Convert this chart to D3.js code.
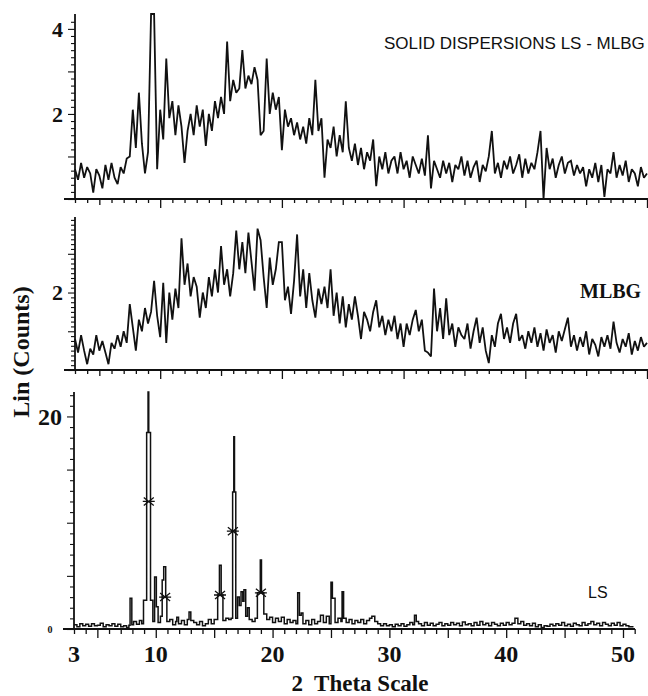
<!DOCTYPE html>
<html><head><meta charset="utf-8">
<script src="https://cdn.jsdelivr.net/npm/d3@7"></script>
<style>body{margin:0;background:#fff}</style>
</head><body>
<svg id="c" width="648" height="696"></svg>
<script>
// ---------- DATA ----------
const thetaStart = 3, thetaStep = 0.25;
// Solid dispersion LS-MLBG (x from 3 to 50 step 0.25)
const sdCounts = [
0.7,0.45,0.85,0.5, 0.75,0.6,0.15,0.7, 0.55,0.25,0.8,0.45, 0.85,0.5,0.35,0.75,
0.6,0.95,1.0,2.1, 1.2,2.5,1.3,0.6, 1.1,4.35,4.35,0.7, 2.1,1.4,3.3,1.9,
2.3,1.5,2.2,1.7, 0.85,1.6,2.0,1.5, 2.2,1.7,2.1,1.25, 2.0,1.6,2.3,1.9,
2.4,2.0,3.7,2.3, 2.8,2.5,2.6,3.5, 2.6,2.9,2.7,3.1, 2.8,1.5,1.6,3.3,
2.0,2.5,2.1,2.4, 1.15,2.1,1.7,1.9, 1.5,1.8,1.4,1.7, 1.3,1.9,1.5,2.8,
1.6,1.9,0.5,1.4, 1.2,1.7,1.0,1.5, 1.1,2.3,1.2,0.9, 1.3,0.8,1.2,0.7,
1.1,0.9,1.4,0.3, 1.0,0.7,1.1,0.6, 0.9,1.0,0.6,1.1, 0.7,0.9,0.5,1.0,
0.8,0.6,0.95,0.55, 1.5,0.25,0.9,0.7, 0.5,0.9,0.6,0.85, 0.4,0.8,0.7,1.0,
0.55,0.9,0.5,0.75, 0.9,0.4,0.8,0.65, 1.0,1.6,0.6,0.85, 0.5,0.9,0.7,1.0,
0.6,0.8,1.05,0.5, 0.95,0.6,0.85,0.7, 1.1,1.6,0.0,1.2, 0.7,0.95,0.5,0.8,
1.0,0.6,0.85,0.9, 0.55,0.8,0.6,0.75, 0.3,0.7,0.5,0.85, 0.4,0.8,0.05,0.7,
0.6,1.1,0.5,0.8, 0.55,0.9,0.4,0.7, 0.6,0.3,0.75,0.5, 0.6
];
// MLBG (x from 3 to 50 step 0.25)
const mlbgCounts = [
0.8,0.45,0.9,0.5, 0.15,0.55,0.4,0.9, 0.5,0.75,0.45,0.15, 0.7,0.55,0.9,0.6,
1.0,0.7,1.7,1.1, 0.5,1.3,1.0,1.6, 1.2,1.5,2.3,1.4, 0.85,2.25,0.7,2.0,
1.3,2.1,1.6,3.4, 2.2,2.75,1.9,2.4, 2.15,1.35,2.0,1.6, 2.4,1.9,2.6,2.0,
3.2,2.2,2.6,1.9, 2.5,3.6,2.6,3.3, 2.5,3.55,2.8,2.05, 3.65,3.35,2.4,1.6,
2.9,2.2,2.6,3.3, 3.3,1.8,2.15,1.45, 2.3,3.5,1.9,2.6, 1.6,2.5,1.8,1.35,
2.1,1.7,2.15,1.6, 2.6,1.4,2.0,1.2, 1.9,1.1,1.7,1.3, 1.9,1.4,0.8,1.5,
1.3,1.0,1.5,1.8, 1.1,1.4,0.9,1.3, 1.0,1.4,0.8,1.2, 0.6,1.2,0.9,1.3,
1.55,1.0,1.3,0.5, 0.45,0.35,2.1,1.0, 1.6,0.8,1.85,0.9, 1.2,0.6,1.1,0.9,
0.8,1.2,0.55,1.0, 1.35,0.7,1.1,0.5, 0.18,0.9,0.6,1.2, 1.45,0.8,1.1,0.7,
1.2,1.45,0.75,0.9, 0.55,1.0,0.7,1.1, 0.6,0.95,0.5,1.05, 0.7,0.9,0.45,1.0,
0.75,1.05,1.35,0.6, 0.9,0.5,0.85,0.6, 1.0,0.4,0.8,0.65, 0.35,0.85,0.6,0.9,
0.55,1.25,0.7,0.45, 0.8,0.6,0.95,0.4, 0.75,0.5,0.85,0.6, 0.7
];
// LS pattern: [2theta, counts]
const lsPoints = [
[3.0,0.4],[3.25,0.2],[3.5,0.5],[3.75,0.3],[4.0,0.45],[4.25,0.25],[4.5,0.5],[4.75,0.3],
[5.0,0.35],[5.25,0.55],[5.5,0.2],[5.75,0.4],[6.0,0.3],[6.25,0.5],[6.5,0.25],[6.75,0.45],
[7.0,0.2],[7.25,0.3],[7.5,0.15],[7.7,0.35],[7.8,2.9],[7.95,0.4],[8.1,0.7],[8.35,0.45],
[8.6,0.8],[8.8,0.5],[8.95,2.7],[9.22,18.5],[9.34,22.3],[9.4,18.5],[9.55,2.7],[9.75,0.7],
[9.9,4.9],[10.05,2.1],[10.2,0.6],[10.4,1.2],[10.55,4.6],[10.68,5.85],[10.85,3.0],[10.95,0.7],
[11.2,0.9],[11.45,0.4],[11.7,0.7],[11.8,1.1],[11.95,0.5],[12.2,0.8],[12.45,0.4],[12.7,0.9],
[12.85,1.6],[13.0,0.8],[13.25,0.6],[13.5,0.4],[13.75,0.7],[14.0,0.3],[14.25,0.5],[14.5,0.9],
[14.75,0.5],[15.0,0.9],[15.3,3.2],[15.45,6.0],[15.6,3.2],[15.75,0.8],[16.0,1.0],[16.25,0.9],
[16.45,1.0],[16.58,12.9],[16.68,18.1],[16.74,12.9],[16.85,1.0],[17.0,3.0],[17.15,2.2],[17.3,3.5],
[17.45,2.6],[17.55,3.7],[17.7,1.2],[17.85,2.0],[18.0,0.9],[18.25,0.7],[18.5,1.0],[18.7,3.4],
[18.95,6.5],[19.05,3.4],[19.25,1.4],[19.5,0.9],[19.75,1.1],[20.0,0.6],[20.25,1.0],[20.5,0.7],
[20.75,1.1],[21.0,0.5],[21.25,0.9],[21.5,0.6],[21.75,0.8],[22.0,0.5],[22.15,3.4],[22.3,1.3],
[22.45,1.5],[22.6,0.5],[22.85,0.8],[23.1,0.4],[23.35,0.9],[23.6,0.5],[23.85,0.7],[24.1,1.3],
[24.35,0.6],[24.6,1.2],[24.85,0.5],[25.0,4.4],[25.12,2.9],[25.25,2.9],[25.35,0.6],[25.6,1.0],
[25.85,0.7],[25.95,3.5],[26.08,1.0],[26.3,0.6],[26.55,0.9],[26.8,0.5],[27.05,0.8],[27.3,0.6],
[27.55,0.9],[27.8,0.5],[28.05,0.8],[28.3,1.0],[28.5,1.2],[28.75,0.7],[29.0,0.5],[29.25,0.3],
[29.5,0.5],[29.75,0.3],[30.0,0.4],[30.25,0.2],[30.5,0.45],[30.75,0.3],[31.0,0.5],[31.25,0.25],
[31.5,0.4],[31.75,0.6],[32.0,0.4],[32.15,1.3],[32.3,0.7],[32.5,0.5],[32.75,0.3],[33.0,0.6],
[33.25,0.35],[33.5,0.55],[33.75,0.3],[34.0,0.45],[34.25,0.6],[34.5,0.3],[34.75,0.5],[35.0,0.35],
[35.25,0.6],[35.5,0.4],[35.75,0.55],[36.0,0.3],[36.25,0.65],[36.5,0.4],[36.75,0.5],[37.0,0.3],
[37.25,0.6],[37.5,0.35],[37.75,0.7],[38.0,0.4],[38.25,0.55],[38.5,0.3],[38.75,0.6],[39.0,0.45],
[39.25,0.3],[39.5,0.55],[39.75,0.35],[40.0,0.6],[40.25,0.4],[40.5,0.55],[40.75,1.0],[41.0,0.5],
[41.25,0.7],[41.5,0.35],[41.75,0.5],[42.0,0.3],[42.25,0.55],[42.5,0.2],[42.75,0.4],[43.0,0.15],
[43.25,0.3],[43.5,0.25],[43.75,0.45],[44.0,0.3],[44.25,0.5],[44.5,0.35],[44.75,0.6],[45.0,0.3],
[45.25,0.45],[45.5,0.25],[45.75,0.55],[46.0,0.4],[46.25,0.3],[46.5,0.6],[46.75,0.35],[47.0,0.5],
[47.25,0.7],[47.5,0.4],[47.75,0.55],[48.0,0.3],[48.25,0.6],[48.5,0.45],[48.75,0.3],[49.0,0.55],
[49.25,0.35],[49.5,0.6],[49.75,0.3],[50.0,0.45],[50.25,0.3],[50.5,0.2],[50.75,0.2],[50.9,0.2]
];
const lsMarkers = [[9.4,12],[10.8,3.0],[15.5,3.2],[16.6,9.2],[19.0,3.4]];
const sdTickLabels = [2,4];
const mlbgTickLabels = [2];
const lsTickLabels = [20];
const xTickLabels = [3,10,20,30,40,50];
const panelLabels = ["SOLID DISPERSIONS LS - MLBG","MLBG","LS"];
const axisTitles = ["Lin (Counts)","2  Theta Scale"];

// ---------- DRAW ----------
const svg = d3.select("#c");
const serif = "'Liberation Serif','Times New Roman',serif";
const sans = "'Liberation Sans',Arial,sans-serif";
const ink = "#111";

const xUp = d3.scaleLinear().domain([3,50]).range([75,647]);
const xLS = d3.scaleLinear().domain([3,50]).range([74,623]);
const ySD = d3.scaleLinear().domain([0,4.35]).range([199,14]);
const yML = d3.scaleLinear().domain([0,3.95]).range([370,217]);
const yLS = d3.scaleLinear().domain([0,22.3]).range([629,392]);

const toPts = arr => arr.map((v,i)=>[thetaStart+i*thetaStep, v]);

function panel(x, y, pts, opts){
  const g = svg.append("g");
  const xa = d3.axisBottom(x).tickValues(d3.range(3, opts.xMax+1, 1)).tickSize(4).tickFormat("");
  const gx = g.append("g").attr("transform",`translate(0,${y.range()[0]})`).call(xa);
  gx.select(".domain").remove();
  gx.selectAll(".tick line").attr("stroke",ink).attr("stroke-width",1.3)
    .attr("y2", d => opts.xMajor(d));
  g.append("line").attr("x1",x.range()[0]-11).attr("x2",opts.xEnd)
    .attr("y1",y.range()[0]).attr("y2",y.range()[0]).attr("stroke",ink).attr("stroke-width",1.8);
  const ya = d3.axisLeft(y).tickValues(opts.yTicks).tickSize(4).tickFormat("");
  const gy = g.append("g").attr("transform",`translate(${x.range()[0]},0)`).call(ya);
  gy.select(".domain").remove();
  gy.selectAll(".tick line").attr("stroke",ink).attr("stroke-width",1.1)
    .attr("x2", d => opts.yMajor(d) ? -7 : -4);
  g.append("line").attr("x1",x.range()[0]).attr("x2",x.range()[0])
    .attr("y1",y.range()[0]).attr("y2",y.range()[1]).attr("stroke",ink).attr("stroke-width",1.8);
  g.selectAll(".yl").data(opts.yLabels).join("text")
    .attr("x", x.range()[0]-12).attr("y", d=>y(d)).attr("dy","0.35em")
    .attr("text-anchor","end").attr("font-family",serif).attr("font-weight","bold")
    .attr("font-size",opts.yLabelSize).attr("fill",ink).text(d=>d);
  const line = d3.line().x(d=>x(d[0])).y(d=>y(Math.min(d[1], y.domain()[1]))).curve(opts.curve);
  g.append("path").datum(pts).attr("d",line).attr("fill","none")
    .attr("stroke",ink).attr("stroke-width",opts.sw).attr("stroke-linejoin","miter").attr("stroke-miterlimit",2);
  return g;
}

const isNum = v => Math.abs(v - Math.round(v)) < 1e-6;
panel(xUp, ySD, toPts(sdCounts), {
  xMax: 50, xEnd: 648, curve: d3.curveLinear, sw: 1.8,
  xMajor: d => d%10===0 ? 9 : d%5===0 ? 6 : 4,
  yTicks: d3.range(0, 26).map(i => i/6),
  yMajor: d => isNum(d),
  yLabels: sdTickLabels, yLabelSize: 22
});
panel(xUp, yML, toPts(mlbgCounts), {
  xMax: 50, xEnd: 648, curve: d3.curveLinear, sw: 1.8,
  xMajor: d => d%10===0 ? 9 : d%5===0 ? 6 : 4,
  yTicks: d3.range(0, 32).map(i => i/8),
  yMajor: d => isNum(d),
  yLabels: mlbgTickLabels, yLabelSize: 22
});
panel(xLS, yLS, lsPoints, {
  xMax: 51, xEnd: 635, curve: d3.curveStepAfter, sw: 1.5,
  xMajor: d => d%5===0 ? 9 : 5,
  yTicks: d3.range(0, 23),
  yMajor: d => d%5===0,
  yLabels: lsTickLabels, yLabelSize: 24
});
svg.append("text").attr("x",50).attr("y",yLS(0)).attr("dy","0.35em").attr("text-anchor","middle")
  .attr("font-family",serif).attr("font-weight","bold").attr("font-size",10).attr("fill",ink).text("0");

const star = "M-6,0H6M-5,-4L5,4M-5,4L5,-4";
svg.selectAll(".mk").data(lsMarkers).join("path")
  .attr("transform", d=>`translate(${xLS(d[0])},${yLS(d[1])})`)
  .attr("d", star).attr("fill","none").attr("stroke",ink).attr("stroke-width",1.3);

svg.selectAll(".xl").data(xTickLabels).join("text")
  .attr("x", d=>xLS(d)).attr("y",662).attr("text-anchor","middle")
  .attr("font-family",serif).attr("font-weight","bold").attr("font-size",24).attr("fill",ink).text(d=>d);

svg.append("text").attr("transform","translate(29,352) rotate(-90)").attr("text-anchor","middle")
  .attr("font-family",serif).attr("font-weight","bold").attr("font-size",24).attr("fill",ink).text(axisTitles[0]);
svg.append("text").attr("x",360).attr("y",691).attr("text-anchor","middle").style("white-space","pre")
  .attr("font-family",serif).attr("font-weight","bold").attr("font-size",23).attr("fill",ink).text(axisTitles[1]);

svg.append("text").attr("x",384).attr("y",49).attr("font-family",sans).attr("font-size",17).attr("fill",ink).text(panelLabels[0]);
svg.append("text").attr("x",580).attr("y",298).attr("font-family",serif).attr("font-weight","bold").attr("font-size",20).attr("fill",ink).text(panelLabels[1]);
svg.append("text").attr("x",588).attr("y",598).attr("font-family",sans).attr("font-size",16).attr("fill",ink).text(panelLabels[2]);
</script>
</body></html>
